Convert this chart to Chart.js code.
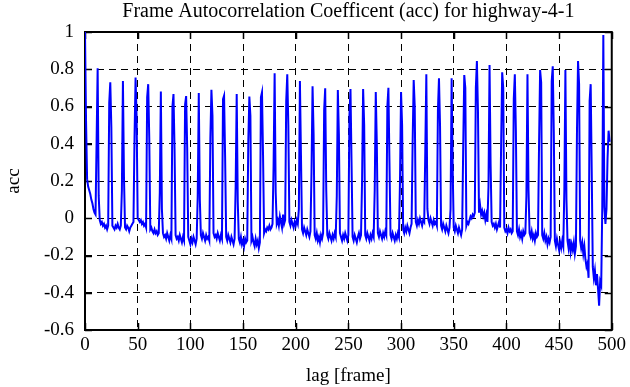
<!DOCTYPE html>
<html><head><meta charset="utf-8">
<script src="https://cdn.jsdelivr.net/npm/chart.js@4.4.0/dist/chart.umd.min.js"></script>
<style>html,body{margin:0;padding:0;background:#fff}</style>
</head><body>
<canvas id="c" width="630" height="387" style="width:630px;height:387px;display:block"></canvas>
<script>
// acc value for lag 0,1,2,... (one value per frame lag)
const acc = [
 1.00, 0.52, 0.21, 0.17, 0.15, 0.13, 0.10, 0.08, 0.05, 0.03, 0.02,
 0.41, 0.805, 0.12, -0.01, -0.03, -0.02, -0.04, -0.03, -0.05, -0.04, -0.06, -0.04,
 0.62, 0.73, 0.49, -0.04, -0.05, -0.06, -0.04, -0.05, -0.03, -0.05, -0.06, -0.04,
 0.15, 0.737, 0.22, -0.05, -0.06, -0.04, -0.05, -0.07, -0.05, -0.04, -0.03, -0.02,
 0.43, 0.755, 0.54, 0.00, -0.01, -0.02, -0.01, -0.03, -0.02, -0.04, -0.03, -0.05,
 0.65, 0.72, 0.43, -0.06, -0.05, -0.07, -0.08, -0.06, -0.08, -0.07, -0.09, -0.08,
 0.14, 0.68, 0.05, -0.08, -0.10, -0.09, -0.11, -0.08, -0.10, -0.12, -0.09, -0.11,
 0.60, 0.667, 0.37, -0.09, -0.11, -0.10, -0.12, -0.09, -0.11, -0.13, -0.10, -0.12,
 0.61, 0.656, 0.38, -0.10, -0.12, -0.14, -0.11, -0.13, -0.10, -0.12, -0.14, -0.11,
 0.12, 0.672, 0.10, -0.09, -0.11, -0.08, -0.10, -0.12, -0.09, -0.11, -0.10, -0.12,
 0.43, 0.69, 0.55, -0.08, -0.10, -0.09, -0.11, -0.08, -0.10, -0.12, -0.09, -0.11,
 0.64, 0.658, 0.33, -0.10, -0.12, -0.09, -0.11, -0.13, -0.10, -0.12, -0.14, -0.11,
 0.17, 0.667, 0.09, -0.11, -0.13, -0.10, -0.14, -0.12, -0.15, -0.11, -0.13, -0.12,
 0.41, 0.653, 0.55, -0.12, -0.10, -0.13, -0.15, -0.11, -0.14, -0.12, -0.16, -0.13,
 0.65, 0.676, 0.34, -0.08, -0.06, -0.07, -0.05, -0.06, -0.04, -0.06, -0.05, -0.03,
 0.28, 0.778, 0.14, -0.03, -0.01, -0.04, 0.01, -0.02, -0.05, 0.02, -0.03, -0.01,
 0.63, 0.773, 0.50, -0.02, -0.04, -0.01, -0.03, -0.05, -0.02, -0.04, -0.01, -0.03,
 0.05, 0.737, 0.34, -0.06, -0.08, -0.05, -0.07, -0.09, -0.06, -0.08, -0.10, -0.07,
 0.25, 0.708, 0.45, -0.09, -0.11, -0.08, -0.12, -0.10, -0.13, -0.09, -0.11, -0.08,
 0.58, 0.698, 0.15, -0.09, -0.11, -0.08, -0.10, -0.12, -0.09, -0.11, -0.08, -0.10,
 0.12, 0.689, 0.45, -0.08, -0.10, -0.12, -0.09, -0.11, -0.08, -0.10, -0.12, -0.09,
 0.55, 0.694, 0.30, -0.10, -0.12, -0.09, -0.11, -0.13, -0.10, -0.08, -0.11, -0.09,
 0.20, 0.694, 0.50, -0.09, -0.11, -0.08, -0.10, -0.12, -0.09, -0.11, -0.08, -0.10,
 0.15, 0.678, 0.40, -0.08, -0.10, -0.07, -0.09, -0.11, -0.08, -0.10, -0.07, -0.09,
 0.60, 0.70, 0.30, -0.09, -0.11, -0.08, -0.10, -0.12, -0.09, -0.11, -0.08, -0.10,
 0.20, 0.678, 0.50, -0.06, -0.08, -0.05, -0.07, -0.04, -0.06, -0.08, -0.05, -0.03,
 0.41, 0.742, 0.60, -0.02, -0.04, -0.01, -0.03, 0.00, -0.02, -0.04, -0.01, -0.02,
 0.36, 0.773, 0.05, -0.01, -0.03, 0.00, -0.02, -0.04, -0.01, -0.03, -0.02, -0.04,
 0.58, 0.751, 0.50, -0.04, -0.06, -0.03, -0.05, -0.07, -0.04, -0.06, -0.08, -0.05,
 0.05, 0.751, 0.27, -0.05, -0.07, -0.04, -0.06, -0.08, -0.05, -0.07, -0.09, -0.06,
 0.38, 0.769, 0.70, -0.04, -0.02, -0.03, -0.01, 0.01, 0.00, 0.02, 0.01, 0.03,
 0.70, 0.844, 0.58, 0.03, 0.07, 0.02, 0.04, 0.01, 0.03, -0.01, 0.02, -0.02,
 0.17, 0.823, 0.29, -0.02, -0.04, -0.03, -0.05, -0.03, -0.06, -0.04, -0.02, -0.05,
 0.40, 0.784, 0.70, -0.05, -0.07, -0.06, -0.08, -0.05, -0.07, -0.06, -0.08, -0.07,
 0.64, 0.773, 0.47, -0.07, -0.09, -0.06, -0.10, -0.08, -0.11, -0.07, -0.09, -0.08,
 0.12, 0.773, 0.15, -0.08, -0.10, -0.07, -0.11, -0.09, -0.12, -0.08, -0.10, -0.09,
 0.40, 0.796, 0.73, -0.09, -0.11, -0.08, -0.12, -0.10, -0.14, -0.11, -0.13, -0.10,
 0.735, 0.816, 0.46, -0.12, -0.15, -0.11, -0.14, -0.17, -0.13, -0.16, -0.12, -0.15,
 0.15, 0.796, 0.10, -0.12, -0.16, -0.11, -0.18, -0.14, -0.17, -0.13, -0.19, -0.15,
 0.47, 0.844, 0.72, -0.12, -0.16, -0.13, -0.19, -0.15, -0.22, -0.26, -0.24, -0.32,
 0.63, 0.72, 0.25, -0.26, -0.32, -0.28, -0.36, -0.30, -0.38, -0.47, -0.34, -0.36,
 0.06, 0.984, 0.06, -0.03, 0.05, 0.32, 0.47, 0.41
];
const lags = acc.map((_, i) => i);
const xTicks = [0, 50, 100, 150, 200, 250, 300, 350, 400, 450, 500];
const yTicks = [-0.6, -0.4, -0.2, 0, 0.2, 0.4, 0.6, 0.8, 1];
const xTickLabels = ['0','50','100','150','200','250','300','350','400','450','500'];
const yTickLabels = ['-0.6','-0.4','-0.2','0','0.2','0.4','0.6','0.8','1'];
const titleText = 'Frame Autocorrelation Coefficent (acc) for highway-4-1';
const xTitle = 'lag [frame]';
const yTitle = 'acc';

const FONT = "'Liberation Serif', 'DejaVu Serif', serif";

// centre the title over the plotting area, as in the reference
const titleCenterPlugin = {
  id: 'titleCenter',
  afterLayout(chart) {
    const tb = chart.titleBlock;
    if (tb) {
      tb.left = chart.chartArea.left;
      tb.right = chart.chartArea.right;
      tb.width = tb.right - tb.left;
    }
  }
};

const framePlugin = {
  id: 'frame',
  beforeDatasetsDraw(chart) {
    const {ctx, chartArea: a, scales: {x, y}} = chart;
    ctx.save();
    ctx.setLineDash([]);
    ctx.strokeStyle = '#000';
    ctx.lineWidth = 1.5;
    ctx.beginPath();
    xTicks.forEach(v => {
      const px = Math.round(x.getPixelForValue(v)) + 0.5;
      ctx.moveTo(px, a.bottom); ctx.lineTo(px, a.bottom - 7);
      ctx.moveTo(px, a.top); ctx.lineTo(px, a.top + 7);
    });
    yTicks.forEach(v => {
      const py = Math.round(y.getPixelForValue(v)) + 0.5;
      ctx.moveTo(a.left, py); ctx.lineTo(a.left + 7, py);
      ctx.moveTo(a.right, py); ctx.lineTo(a.right - 7, py);
    });
    ctx.stroke();
    ctx.lineWidth = 2;
    ctx.strokeRect(a.left, a.top, a.right - a.left, a.bottom - a.top);
    ctx.restore();
  }
};

new Chart(document.getElementById('c'), {
  type: 'line',
  data: {
    datasets: [{
      data: lags.map((l, i) => ({x: l, y: acc[i]})),
      borderColor: 'rgb(0,0,255)',
      borderWidth: 2,
      pointRadius: 0,
      tension: 0,
      fill: false
    }]
  },
  options: {
    responsive: false,
    devicePixelRatio: 1,
    animation: false,
    layout: {padding: {left: 0, right: 18, top: 0, bottom: 0}},
    plugins: {
      legend: {display: false},
      tooltip: {enabled: false},
      title: {
        display: true, text: titleText, color: '#000',
        font: {family: FONT, size: 20, weight: 'normal'},
        padding: {top: 0, bottom: 8}
      }
    },
    scales: {
      x: {
        type: 'linear', min: 0, max: 500,
        afterFit(s) { s.height = 57; },
        afterBuildTicks(s) { s.ticks = xTicks.map(v => ({value: v})); },
        ticks: {
          color: '#000', font: {family: FONT, size: 19}, padding: 4,
          maxRotation: 0, autoSkip: false,
          callback: (v) => xTickLabels[xTicks.indexOf(v)]
        },
        grid: {color: '#000', lineWidth: 1, drawTicks: false},
        border: {display: false, dash: [7, 5]},
        title: {display: true, text: xTitle, color: '#000', font: {family: FONT, size: 19}, padding: {top: 0, bottom: 0}}
      },
      y: {
        type: 'linear', min: -0.6, max: 1,
        afterFit(s) { s.width = 85; },
        afterBuildTicks(s) { s.ticks = yTicks.map(v => ({value: v})); },
        ticks: {
          color: '#000', font: {family: FONT, size: 19}, padding: 11,
          autoSkip: false,
          callback: (v) => yTickLabels[yTicks.findIndex(t => Math.abs(t - v) < 1e-9)]
        },
        grid: {color: '#000', lineWidth: 1, drawTicks: false},
        border: {display: false, dash: [7, 5]},
        title: {display: true, text: yTitle, color: '#000', font: {family: FONT, size: 19}, padding: {top: 3, bottom: 0}}
      }
    }
  },
  plugins: [titleCenterPlugin, framePlugin]
});
</script>
</body></html>
